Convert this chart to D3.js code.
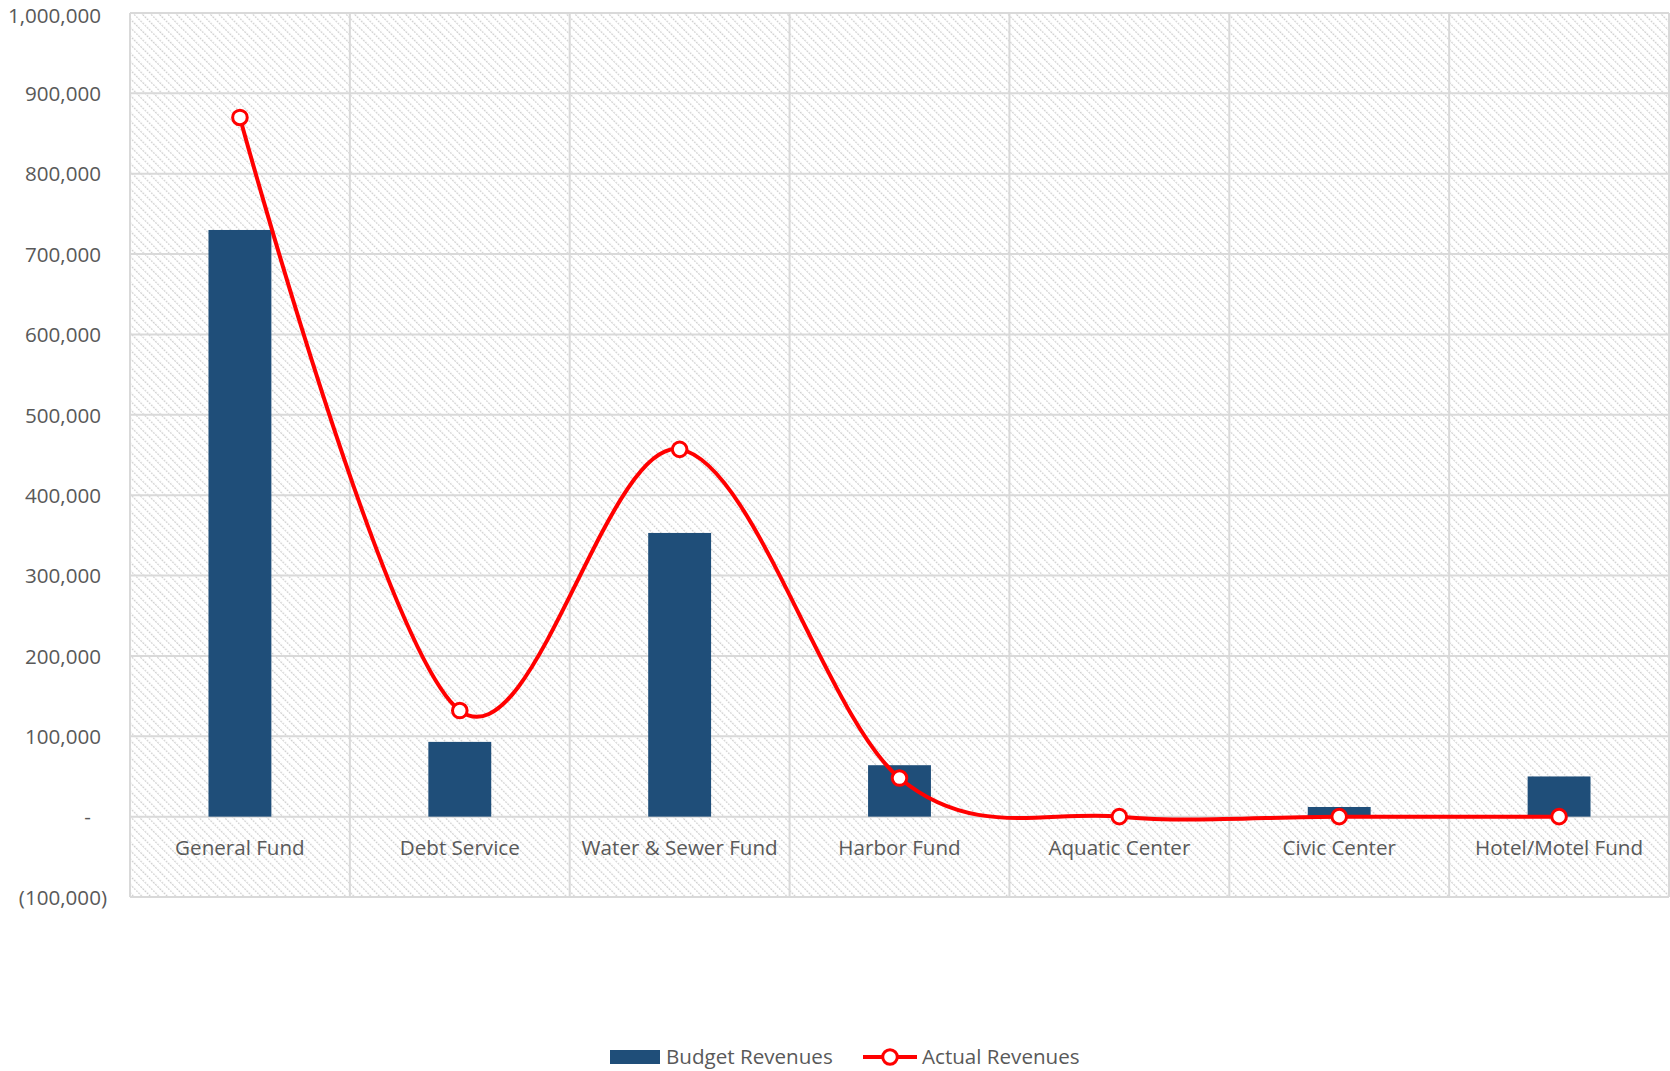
<!DOCTYPE html>
<html lang="en">
<head>
	<meta charset="utf-8"/>
	<title>Budget vs Actual Revenues</title>
	<script src="https://d3js.org/d3.v7.min.js"></script>
	<style>
		body { margin: 0; background: #fff; }
		text { font-family: "Open Sans", "Noto Sans", sans-serif; fill: #595959; }
	</style>
</head>
<body>
<div id="chart"></div>
<script>
	// data
	var funds = ["General Fund", "Debt Service", "Water & Sewer Fund", "Harbor Fund", "Aquatic Center", "Civic Center", "Hotel/Motel Fund"];
	var budget = [730000, 93000, 353000, 64000, 0, 12000, 50000];
	var actual = [870000, 132000, 457000, 48000, 0, 0, 0];
	var yTicks = [-100000, 0, 100000, 200000, 300000, 400000, 500000, 600000, 700000, 800000, 900000, 1000000];

	var width = 1670, height = 1071;
	var m = {top: 13, right: 1, bottom: 174, left: 130};
	var fs = 20.6;

	var svg = d3.select("#chart").append("svg")
		.attr("width", width)
		.attr("height", height);

	// hatched plot background
	var pat = svg.append("defs").append("pattern")
		.attr("id", "hatch")
		.attr("patternUnits", "userSpaceOnUse")
		.attr("width", 6).attr("height", 6)
		.attr("patternTransform", "rotate(-45)");
	pat.append("rect").attr("width", 6).attr("height", 6).attr("fill", "#fff");
	pat.append("line")
		.attr("x1", 0).attr("y1", 0).attr("x2", 0).attr("y2", 6)
		.attr("stroke", "#d0d0d0").attr("stroke-width", 2.4)
		.attr("stroke-dasharray", "2,1");

	var x = d3.scaleBand()
		.domain(funds)
		.range([m.left, width - m.right]);

	var y = d3.scaleLinear()
		.domain([-100000, 1000000])
		.range([height - m.bottom, m.top]);

	svg.append("rect")
		.attr("x", m.left).attr("y", m.top)
		.attr("width", width - m.right - m.left)
		.attr("height", height - m.bottom - m.top)
		.attr("fill", "url(#hatch)");

	// horizontal gridlines
	svg.append("g")
		.selectAll("line")
		.data(yTicks)
		.enter().append("line")
			.attr("x1", m.left).attr("x2", width - m.right)
			.attr("y1", function(d) { return y(d); })
			.attr("y2", function(d) { return y(d); })
			.attr("stroke", "#d9d9d9").attr("stroke-width", 2);

	// vertical gridlines at category edges
	var edges = funds.map(function(d) { return x(d); }).concat([x.range()[1]]);
	svg.append("g")
		.selectAll("line")
		.data(edges)
		.enter().append("line")
			.attr("x1", function(d) { return d; }).attr("x2", function(d) { return d; })
			.attr("y1", m.top).attr("y2", height - m.bottom)
			.attr("stroke", "#d9d9d9").attr("stroke-width", 2);

	// y tick labels, excel accounting style
	var fmt = d3.format(",");
	svg.append("g")
		.selectAll("text")
		.data(yTicks)
		.enter().append("text")
			.attr("x", function(d) { return d < 0 ? 107 : (d === 0 ? 91 : 101); })
			.attr("y", function(d) { return Math.max(y(d) + 0.5, 16); })
			.attr("dy", "0.35em")
			.attr("text-anchor", "end")
			.attr("font-size", fs)
			.text(function(d) { return d < 0 ? "(" + fmt(-d) + ")" : (d === 0 ? "-" : fmt(d)); });

	// category labels
	svg.append("g")
		.selectAll("text")
		.data(funds)
		.enter().append("text")
			.attr("x", function(d) { return x(d) + x.bandwidth() / 2; })
			.attr("y", y(0) + 31)
			.attr("dy", "0.35em")
			.attr("text-anchor", "middle")
			.attr("font-size", fs)
			.text(function(d) { return d; });

	// bars
	var bw = x.bandwidth() * 0.286;
	svg.append("g")
		.selectAll("rect")
		.data(budget)
		.enter().append("rect")
			.attr("x", function(d, i) { return x(funds[i]) + (x.bandwidth() - bw) / 2; })
			.attr("y", function(d) { return y(Math.max(d, 0)); })
			.attr("width", bw)
			.attr("height", function(d) { return Math.abs(y(d) - y(0)); })
			.attr("fill", "#1f4e79");

	// smoothed actual line
	var pts = actual.map(function(d, i) { return [x(funds[i]) + x.bandwidth() / 2, y(d)]; });
	svg.append("path")
		.datum(pts)
		.attr("d", d3.line().curve(d3.curveCardinal.tension(0)))
		.attr("fill", "none")
		.attr("stroke", "#ff0000")
		.attr("stroke-width", 4);

	svg.append("g")
		.selectAll("circle")
		.data(pts)
		.enter().append("circle")
			.attr("cx", function(d) { return d[0]; })
			.attr("cy", function(d) { return d[1]; })
			.attr("r", 7.3)
			.attr("fill", "#fff")
			.attr("stroke", "#ff0000")
			.attr("stroke-width", 3);

	// legend
	var lg = svg.append("g").attr("transform", "translate(0,1057)");
	lg.append("rect")
		.attr("x", 610).attr("y", -7)
		.attr("width", 50).attr("height", 14)
		.attr("fill", "#1f4e79");
	lg.append("text")
		.attr("x", 666).attr("dy", "0.35em")
		.attr("font-size", fs)
		.text("Budget Revenues");
	lg.append("line")
		.attr("x1", 863).attr("x2", 917)
		.attr("stroke", "#ff0000").attr("stroke-width", 4);
	lg.append("circle")
		.attr("cx", 890).attr("r", 7.3)
		.attr("fill", "#fff").attr("stroke", "#ff0000").attr("stroke-width", 3);
	lg.append("text")
		.attr("x", 922).attr("dy", "0.35em")
		.attr("font-size", fs)
		.text("Actual Revenues");
</script>
</body>
</html>
